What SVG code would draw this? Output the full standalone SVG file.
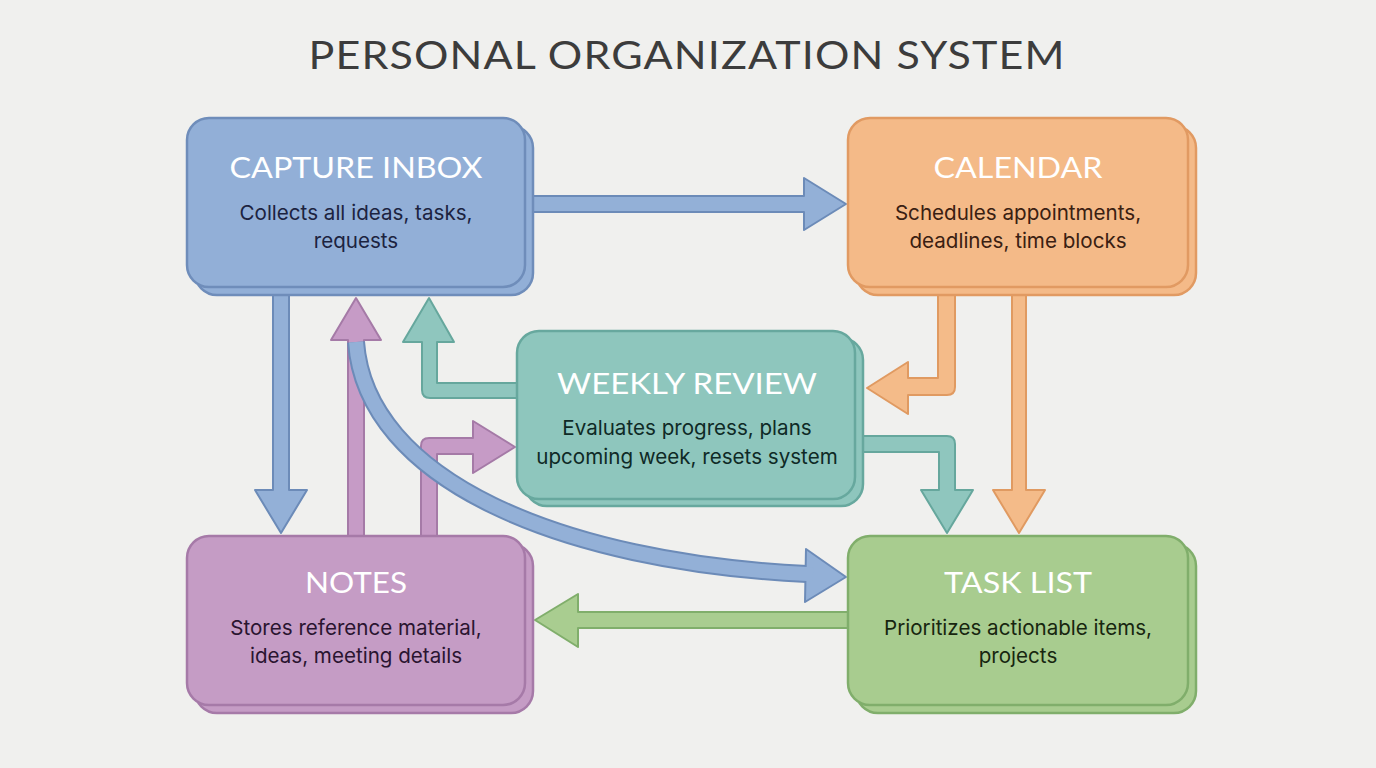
<svg xmlns="http://www.w3.org/2000/svg" width="1376" height="768" viewBox="0 0 1376 768">
<style>
.bg{fill:#f0f0ee}
.title{font-family:Lato,"Liberation Sans",sans-serif;font-size:38px;fill:#3c3c3c;text-anchor:middle;letter-spacing:1px}
.head{font-family:Lato,"Liberation Sans",sans-serif;font-size:28px;fill:#ffffff;text-anchor:middle}
.body{font-family:Inter,"Liberation Sans",sans-serif;font-size:20.6px;text-anchor:middle}
.blue .box{fill:#92afd7;stroke:#6f8dba;stroke-width:2.5}
.orange .box{fill:#f4ba88;stroke:#e19a62;stroke-width:2.5}
.teal .box{fill:#8ec6bd;stroke:#67a89e;stroke-width:2.5}
.purple .box{fill:#c59cc5;stroke:#a67aa8;stroke-width:2.5}
.green .box{fill:#a8cc8f;stroke:#80ae6b;stroke-width:2.5}
.a-blue{fill:#93b0d7;stroke:#6c8bb8;stroke-width:2;stroke-linejoin:round}
.a-orange{fill:#f4bb89;stroke:#e09a61;stroke-width:2;stroke-linejoin:round}
.a-teal{fill:#8fc6be;stroke:#66a79d;stroke-width:2;stroke-linejoin:round}
.a-purple{fill:#c69bc6;stroke:#a57aa7;stroke-width:2;stroke-linejoin:round}
.a-green{fill:#a9cd90;stroke:#80ae6b;stroke-width:2;stroke-linejoin:round}
</style>
<rect class="bg" x="0" y="0" width="1376" height="768"/>
<text class="title" x="687" y="69" textLength="757" lengthAdjust="spacingAndGlyphs">PERSONAL ORGANIZATION SYSTEM</text>

<g id="connectors">
  <!-- capture -> calendar -->
  <path class="a-blue" d="M530,196 H804 V178 L846,204 L804,230 V212 H530 Z"/>
  <!-- capture -> notes -->
  <path class="a-blue" d="M273,292 V490 H255 L281,533 L307,490 H289 V292 Z"/>
  <!-- notes -> capture -->
  <path class="a-purple" d="M348,540 V340 H331 L356,298 L381,340 H364 V540 Z"/>
  <!-- notes -> weekly review -->
  <path class="a-purple" d="M421,540 V446 Q421,438 429,438 H473 V421 L515,447 L473,473 V454 H437 V540 Z"/>
  <!-- weekly review -> capture -->
  <path class="a-teal" d="M522,383 H437 V342 H454 L429,298 L403,342 H422 V390 Q422,398 430,398 H522 Z"/>
  <!-- calendar -> weekly review -->
  <path class="a-orange" d="M938,292 V378 H908 V362 L867,388 L908,414 V395 H947 Q955,395 955,387 V292 Z"/>
  <!-- calendar -> task list -->
  <path class="a-orange" d="M1012,292 V490 H993 L1019,533 L1045,490 H1026 V292 Z"/>
  <!-- weekly review -> task list -->
  <path class="a-teal" d="M858,436 H947 Q955,436 955,444 V490 H973 L947,533 L921,490 H939 V452 H858 Z"/>
  <!-- task list -> notes -->
  <path class="a-green" d="M852,612 H578 V594 L535,620 L578,647 V628 H852 Z"/>
  <!-- capture -> task list (curved) -->
  <path d="M356,342 C366,480 560,562 807,574" fill="none" stroke="#6c8bb8" stroke-width="18"/>
  <path class="a-blue" d="M806,549 L846,577 L805,602 Z"/>
  <path d="M356,342 C366,480 560,562 807,574 L813,574.3" fill="none" stroke="#93b0d7" stroke-width="14"/>
</g>

<g id="capture-inbox" class="blue">
  <rect class="box" x="195" y="126" width="338" height="169" rx="22"/>
  <rect class="box" x="187" y="118" width="338" height="169" rx="22"/>
  <text class="head" x="356" y="178" textLength="253" lengthAdjust="spacingAndGlyphs">CAPTURE INBOX</text>
  <text class="body" x="356" y="220" fill="#1c2340">Collects all ideas, tasks,</text>
  <text class="body" x="356" y="248" fill="#1c2340">requests</text>
</g>

<g id="calendar" class="orange">
  <rect class="box" x="856" y="126" width="340" height="169" rx="22"/>
  <rect class="box" x="848" y="118" width="340" height="169" rx="22"/>
  <text class="head" x="1018" y="178" fill="#fdf4e6" textLength="169" lengthAdjust="spacingAndGlyphs">CALENDAR</text>
  <text class="body" x="1018" y="220" fill="#3a2012">Schedules appointments,</text>
  <text class="body" x="1018" y="248" fill="#3a2012">deadlines, time blocks</text>
</g>

<g id="weekly-review" class="teal">
  <rect class="box" x="525" y="338" width="338" height="168" rx="22"/>
  <rect class="box" x="517" y="331" width="338" height="168" rx="22"/>
  <text class="head" x="687" y="394" textLength="260" lengthAdjust="spacingAndGlyphs">WEEKLY REVIEW</text>
  <text class="body" x="687" y="435" fill="#0f2a26">Evaluates progress, plans</text>
  <text class="body" x="687" y="464" fill="#0f2a26">upcoming week, resets system</text>
</g>

<g id="notes" class="purple">
  <rect class="box" x="195" y="544" width="338" height="169" rx="22"/>
  <rect class="box" x="187" y="536" width="338" height="169" rx="22"/>
  <text class="head" x="356" y="593" textLength="102" lengthAdjust="spacingAndGlyphs">NOTES</text>
  <text class="body" x="356" y="635" fill="#2a1430">Stores reference material,</text>
  <text class="body" x="356" y="663" fill="#2a1430">ideas, meeting details</text>
</g>

<g id="task-list" class="green">
  <rect class="box" x="856" y="544" width="340" height="169" rx="22"/>
  <rect class="box" x="848" y="536" width="340" height="169" rx="22"/>
  <text class="head" x="1018" y="593" textLength="148" lengthAdjust="spacingAndGlyphs">TASK LIST</text>
  <text class="body" x="1018" y="635" fill="#17260f">Prioritizes actionable items,</text>
  <text class="body" x="1018" y="663" fill="#17260f">projects</text>
</g>
</svg>
